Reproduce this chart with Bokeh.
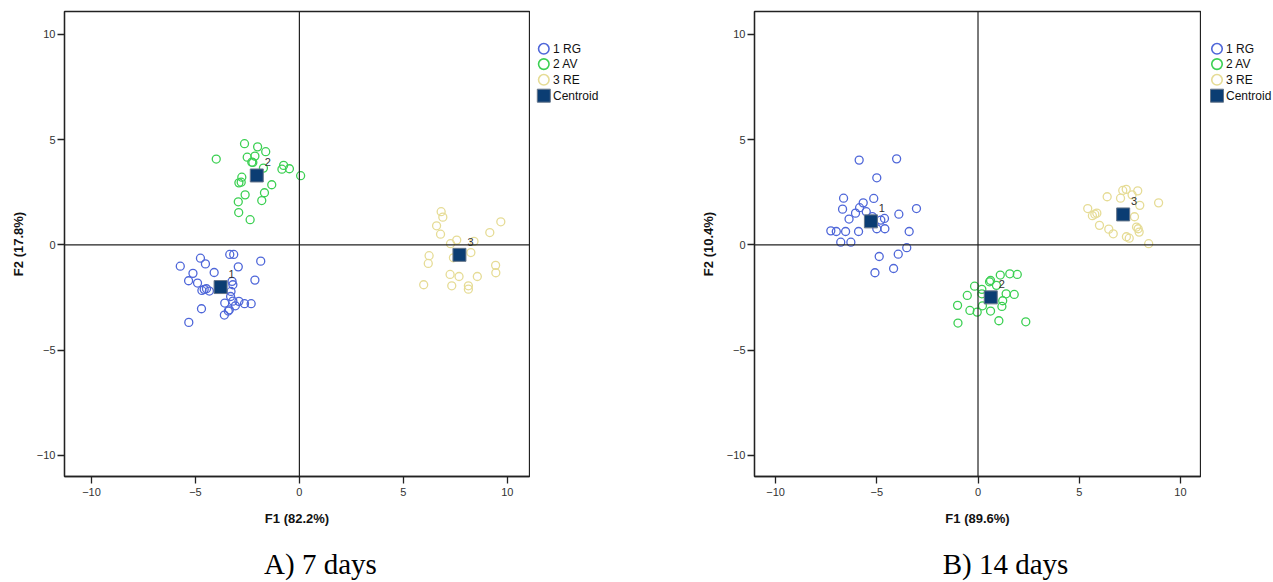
from bokeh.plotting import figure
from bokeh.layouts import row, column
from bokeh.models import Span, FixedTicker, Range1d, ColumnDataSource
from bokeh.core.properties import value
from bokeh.embed import file_html
from bokeh.resources import INLINE

# ---------------- data: 7 days ----------------
rg7_x = [-5.73, -4.76, -4.52, -3.35, -3.16, -1.86, -5.12, -5.33, -4.90, -4.10, -2.94, -4.47, -4.69, -4.33,
         -4.58, -3.24, -3.20, -2.14, -3.29, -3.31, -3.59, -3.20, -2.91, -2.64, -2.32, -3.08, -3.37, -3.42,
         -3.61, -4.71, -5.32]
rg7_y = [-1.01, -0.63, -0.90, -0.45, -0.45, -0.77, -1.35, -1.70, -1.81, -1.31, -1.04, -2.08, -2.16, -2.19,
         -2.11, -1.73, -1.89, -1.67, -2.21, -2.45, -2.76, -2.67, -2.68, -2.79, -2.79, -2.89, -3.08, -3.14,
         -3.33, -3.03, -3.68]
av7_x = [-4.00, -2.64, -2.01, -1.62, -2.51, -2.14, -2.29, -2.24, -1.73, -0.76, -0.84, -0.48, 0.06, -2.77,
         -2.91, -2.80, -1.33, -2.61, -1.68, -2.94, -1.81, -2.92, -2.37]
av7_y = [4.08, 4.81, 4.66, 4.43, 4.17, 4.22, 3.93, 3.92, 3.65, 3.78, 3.60, 3.62, 3.29, 3.22,
         2.95, 2.98, 2.86, 2.38, 2.48, 2.05, 2.11, 1.54, 1.20]
re7_x = [6.82, 6.90, 6.60, 6.79, 9.69, 9.16, 7.57, 7.27, 8.40, 8.25, 6.24, 6.20, 7.41, 7.25, 7.68, 8.56,
         9.44, 9.45, 5.98, 7.33, 8.13, 8.13]
re7_y = [1.58, 1.32, 0.91, 0.51, 1.10, 0.59, 0.23, 0.06, 0.17, -0.36, -0.51, -0.88, -0.61, -1.40, -1.50,
         -1.50, -0.97, -1.32, -1.89, -1.94, -1.94, -2.10]
cen7_x = [-3.79, -2.05, 7.70]
cen7_y = [-2.00, 3.30, -0.47]

# ---------------- data: 14 days ----------------
rg14_x = [-5.87, -4.02, -5.00, -6.64, -5.15, -6.69, -5.67, -5.85, -6.05, -5.52, -6.37, -3.04, -3.91, -4.62,
          -4.80, -4.60, -5.00, -3.40, -7.27, -7.00, -6.54, -5.90, -6.78, -6.28, -3.52, -3.94, -4.88, -4.17,
          -5.09, -5.22]
rg14_y = [4.03, 4.09, 3.19, 2.22, 2.21, 1.70, 2.00, 1.77, 1.51, 1.58, 1.23, 1.73, 1.46, 1.26,
          1.18, 0.77, 0.77, 0.64, 0.67, 0.64, 0.64, 0.64, 0.13, 0.13, -0.13, -0.44, -0.55, -1.12,
          -1.32, 1.35]
av14_x = [1.10, 1.57, 1.94, 0.62, 0.57, -0.17, 0.19, 0.91, -0.53, 1.39, 1.79, 0.19, 1.22, -1.01,
          -0.40, -0.04, 0.62, 1.18, 0.22, 1.03, -0.99, 2.36]
av14_y = [-1.43, -1.37, -1.40, -1.69, -1.75, -1.96, -2.11, -1.92, -2.40, -2.32, -2.35, -2.32, -2.65, -2.87,
          -3.11, -3.19, -3.14, -2.92, -2.89, -3.60, -3.71, -3.65]
re14_x = [6.38, 7.15, 7.32, 7.61, 7.89, 7.04, 8.92, 7.99, 5.42, 5.87, 5.65, 5.77, 7.73, 6.00,
          6.46, 6.68, 7.83, 7.91, 7.96, 7.33, 7.47, 8.43]
re14_y = [2.29, 2.59, 2.64, 2.38, 2.57, 2.22, 2.00, 1.88, 1.73, 1.51, 1.39, 1.46, 1.34, 0.93,
          0.75, 0.53, 0.85, 0.77, 0.61, 0.39, 0.32, 0.06]
cen14_x = [-5.29, 0.63, 7.17]
cen14_y = [1.12, -2.49, 1.45]

group_names = ["1 RG", "2 AV", "3 RE"]
legend_names = group_names + ["Centroid"]
centroid_labels = ["1", "2", "3"]
captions = ["A) 7 days", "B) 14 days"]
ticks = [-10, -5, 0, 5, 10]

COLORS = ["#4f67d9", "#3cd053", "#e6dc96"]
CEN_FILL = "#0b3d73"
CEN_LINE = "#66768a"
FONT = "Liberation Sans"

TOP_H = 530      # height of the plot row
CAP_H = 582 - TOP_H


def make_panel(groups, cx, cy, xlab, ylab, width, xr):
    p = figure(width=width, height=TOP_H, output_backend="svg", toolbar_location=None,
               x_range=Range1d(xr[0], xr[1]), y_range=Range1d(-11.0, 11.09),
               min_border_left=64, min_border_right=1, min_border_top=11,
               min_border_bottom=54)
    p.background_fill_color = "white"
    p.border_fill_color = "white"
    p.outline_line_color = "#222222"
    p.outline_line_width = 1.3
    p.xgrid.visible = False
    p.ygrid.visible = False
    for ax in (p.xaxis[0], p.yaxis[0]):
        ax.ticker = FixedTicker(ticks=ticks)
        ax.minor_tick_line_color = None
        ax.major_tick_in = 0
        ax.major_tick_out = 7
        ax.major_tick_line_color = "#222222"
        ax.major_tick_line_width = 1.3
        ax.axis_line_color = "#222222"
        ax.axis_line_width = 1.3
        ax.major_label_text_font = FONT
        ax.major_label_text_font_size = "11px"
        ax.major_label_text_color = "#333333"
        ax.axis_label_text_font = FONT
        ax.axis_label_text_font_size = "13px"
        ax.axis_label_text_font_style = "bold"
        ax.axis_label_text_color = "#111111"
    p.xaxis.axis_label = xlab
    p.yaxis.axis_label = ylab
    p.xaxis.major_label_standoff = 4
    p.xaxis.axis_label_standoff = 12
    p.yaxis.major_label_standoff = 2
    p.yaxis.axis_label_standoff = 8

    p.add_layout(Span(location=0, dimension="height", line_color="#222222", line_width=1.2))
    p.add_layout(Span(location=0, dimension="width", line_color="#222222", line_width=1.2))

    for (gx, gy), col in zip(groups, COLORS):
        p.scatter(gx, gy, marker="circle", size=8, fill_alpha=0, line_color=col, line_width=1.3)
    src = ColumnDataSource(dict(x=cx, y=cy, t=centroid_labels))
    p.scatter("x", "y", source=src, marker="square", size=13, fill_color=CEN_FILL,
              line_color=CEN_LINE, line_width=1)
    p.text("x", "y", text="t", source=src, x_offset=11, y_offset=-13, text_align="center",
           text_baseline="middle", text_font=value(FONT), text_font_size="11px", text_color="#333333")
    return p


def blank(width, height, yr, top, bottom):
    f = figure(width=width, height=height, output_backend="svg", toolbar_location=None,
               x_range=Range1d(0, width), y_range=Range1d(yr[0], yr[1]),
               min_border=0, min_border_left=0, min_border_right=0, min_border_top=top,
               min_border_bottom=bottom)
    f.axis.visible = False
    f.grid.visible = False
    f.outline_line_color = None
    f.background_fill_color = "white"
    f.border_fill_color = "white"
    return f


def make_legend(width, mx, tx):
    # frame spans screen rows 11..476, same as the plot frames
    lg = blank(width, TOP_H, (476, 11), 11, 54)
    ys = [48.3, 63.6, 79.3, 95.2]
    for y, col in zip(ys[:3], COLORS):
        lg.scatter([mx], [y], marker="circle", size=10.5, fill_alpha=0, line_color=col, line_width=1.6)
    lg.scatter([mx], [ys[3]], marker="square", size=13, fill_color=CEN_FILL, line_color=CEN_LINE,
               line_width=1)
    lg.text([tx] * 4, ys, text=legend_names, text_align="left", text_baseline="middle",
            text_font=value(FONT), text_font_size="12px", text_color="#111111")
    return lg


def make_caption(width, cx, text):
    c = blank(width, CAP_H, (CAP_H, 0), 0, 0)
    c.text([cx], [33], text=[text], text_align="center", text_baseline="middle",
           text_font=value("Liberation Serif"), text_font_size="29px", text_color="black")
    return c


p1 = make_panel([(rg7_x, rg7_y), (av7_x, av7_y), (re7_x, re7_y)], cen7_x, cen7_y,
                "F1 (82.2%)", "F2 (17.8%)", 530, (-11.3, 11.07))
l1 = make_legend(160, 13.3, 22.5)
p2 = make_panel([(rg14_x, rg14_y), (av14_x, av14_y), (re14_x, re14_y)], cen14_x, cen14_y,
                "F1 (89.6%)", "F2 (10.4%)", 511, (-11.04, 10.99))
l2 = make_legend(72, 15.5, 24.5)

c1 = make_caption(690, 320, captions[0])
c2 = make_caption(583, 315, captions[1])

layout = column(row(p1, l1, p2, l2), row(c1, c2))
open("out.html", "w").write(file_html(layout, INLINE))
